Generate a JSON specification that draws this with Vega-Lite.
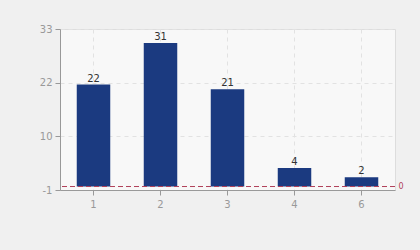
{
  "$schema": "https://vega.github.io/schema/vega-lite/v6.json",
  "autosize": "none",
  "width": 335,
  "height": 161,
  "padding": {"left": 60, "top": 29, "right": 25, "bottom": 60},
  "background": "#f0f0f0",
  "config": {
    "font": "DejaVu Sans",
    "view": {"fill": "#f8f8f8", "stroke": "#dddddd"},
    "axis": {
      "labelFont": "DejaVu Sans",
      "labelFontSize": 10,
      "labelColor": "#999999",
      "domainColor": "#999999",
      "tickColor": "#999999",
      "tickSize": 5,
      "gridColor": "#e2e2e2",
      "gridDash": [4, 4],
      "title": null
    }
  },
  "data": {
    "values": [
      {"category": "1", "value": 22},
      {"category": "2", "value": 31},
      {"category": "3", "value": 21},
      {"category": "4", "value": 4},
      {"category": "6", "value": 2}
    ]
  },
  "layer": [
    {
      "mark": {"type": "bar", "color": "#1b3a80"},
      "encoding": {
        "x": {
          "field": "category",
          "type": "ordinal",
          "sort": null,
          "scale": {"paddingInner": 0.5, "paddingOuter": 0.25},
          "axis": {"labelAngle": 0, "grid": true, "bandPosition": 0.5, "labelPadding": 4}
        },
        "y": {
          "field": "value",
          "type": "quantitative",
          "scale": {"domain": [-0.75, 34], "nice": false, "zero": false},
          "axis": {
            "values": [-0.75, 10.8333, 22.4167, 34],
            "labelExpr": "datum.value < 0 ? '-1' : datum.value < 11 ? '10' : datum.value < 23 ? '22' : '33'",
            "grid": true,
            "labelPadding": 3
          }
        }
      }
    },
    {
      "mark": {"type": "text", "baseline": "bottom", "dy": -1, "fontSize": 10, "color": "#333333"},
      "encoding": {
        "x": {"field": "category", "type": "ordinal", "sort": null},
        "y": {"field": "value", "type": "quantitative", "axis": null},
        "text": {"field": "value", "type": "quantitative"}
      }
    },
    {
      "data": {"values": [{"ref": 0}]},
      "mark": {"type": "rule", "color": "#b0405a", "strokeDash": [5, 3], "strokeWidth": 1},
      "encoding": {
        "y": {
          "field": "ref",
          "type": "quantitative",
          "axis": {"orient": "right", "values": [0], "domain": false, "ticks": false, "grid": false, "labelColor": "#b0405a", "labelFontSize": 8, "labelPadding": 3}
        }
      }
    }
  ],
  "resolve": {"axis": {"y": "independent"}}
}
